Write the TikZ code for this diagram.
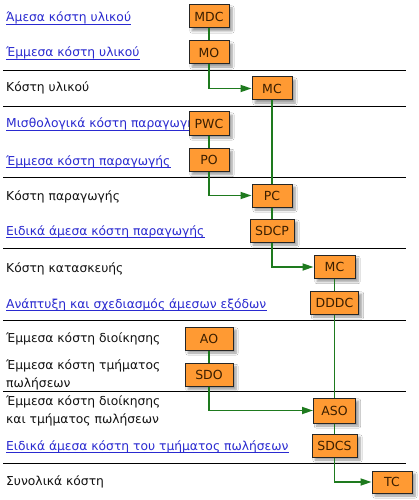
\documentclass[tikz,border=0pt]{standalone}
\usepackage{fontspec}
\setmainfont{DejaVu Sans}
\usetikzlibrary{arrows.meta,shadows.blur}
\definecolor{boxfill}{HTML}{FF9A33}
\definecolor{boxtext}{HTML}{3A1E00}
\definecolor{conn}{HTML}{1E7A1E}
\definecolor{linkblue}{HTML}{2A2AD0}
\definecolor{plain}{HTML}{111111}
\tikzset{
  cbox/.style={draw=black!85, line width=1pt, fill=boxfill, text=boxtext,
    minimum width=40pt, minimum height=23pt, inner sep=0pt, font=\fontsize{12.5}{14}\selectfont,
    blur shadow={shadow xshift=3pt, shadow yshift=-3pt, shadow blur steps=6, shadow opacity=40}},
  lbl/.style={anchor=base west, inner sep=0pt, text=plain, font=\fontsize{12.3}{17.5}\selectfont, align=left},
  lnk/.style={lbl, text=linkblue},
  ul/.style={draw=linkblue, line width=0.8pt},
  sep/.style={draw=black, line width=0.9pt},
  cn/.style={draw=conn, line width=1.7pt},
  ca/.style={cn, -{Triangle[length=11pt,width=7pt]}}
}
\begin{document}
\begin{tikzpicture}[x=1pt,y=-1pt]
\useasboundingbox (0,0) rectangle (418,500);
\fill[white] (0,0) rectangle (418,500);
% separators
\foreach \yy [count=\i] in {70,106,177,248,320,391,463}
  \coordinate (sl\i) at (3,\yy);
\foreach \i in {1,...,7} \draw[sep] (sl\i) -- ++(403,0);
% labels
\node[lnk] (t1) at (6,22) {Άμεσα κόστη υλικού};
\node[lnk] (t2) at (6,57) {Έμμεσα κόστη υλικού};
\node[lbl] (t3) at (6,92) {Κόστη υλικού};
\node[lnk] (t4) at (6,128) {Μισθολογικά κόστη παραγωγής};
\node[lnk] (t5) at (6,165) {Έμμεσα κόστη παραγωγής};
\node[lbl] (t6) at (6,200) {Κόστη παραγωγής};
\node[lnk] (t7) at (6,235) {Ειδικά άμεσα κόστη παραγωγής};
\node[lbl] (t8) at (6,272) {Κόστη κατασκευής};
\node[lnk] (t9) at (6,308) {Ανάπτυξη και σχεδιασμός άμεσων εξόδων};
\node[lbl] (t10) at (6,342) {Έμμεσα κόστη διοίκησης};
\node[lbl] (t11) at (6,387) {Έμμεσα κόστη τμήματος\\πωλήσεων};
\node[lbl] (t12) at (6,423) {Έμμεσα κόστη διοίκησης\\και τμήματος πωλήσεων};
\node[lnk] (t13) at (6,450) {Ειδικά άμεσα κόστη του τμήματος πωλήσεων};
\node[lbl] (t14) at (6,485) {Συνολικά κόστη};
\foreach \n in {t1,t2,t4,t5,t7,t9,t13}
  \draw[ul] ([yshift=-2pt]\n.base west) -- ([yshift=-2pt]\n.base east);
% boxes
\node[cbox] (mdc) at (209,16.5) {MDC};
\node[cbox] (mo) at (209,52.5) {MO};
\node[cbox] (mc) at (272,88.5) {MC};
\node[cbox] (pwc) at (209,123.5) {PWC};
\node[cbox] (po) at (209,160) {PO};
\node[cbox] (pc) at (272,195.5) {PC};
\node[cbox, minimum width=44pt] (sdcp) at (272,230.5) {SDCP};
\node[cbox, minimum width=41pt] (mc2) at (334.5,267) {MC};
\node[cbox, minimum width=48pt] (dddc) at (334.5,302.5) {DDDC};
\node[cbox, minimum width=48pt] (ao) at (209,338.5) {AO};
\node[cbox, minimum width=48pt] (sdo) at (209,375) {SDO};
\node[cbox, minimum width=42pt, minimum height=25pt] (aso) at (334.5,410.5) {ASO};
\node[cbox, minimum width=45pt] (sdcs) at (334.5,445.5) {SDCS};
\node[cbox, minimum height=22pt] (tc) at (392,482) {TC};
% connectors
\draw[cn] (mdc.south) -- (mo.north);
\draw[ca] (mo.south) |- (mc.west);
\draw[cn] (mc.south) -- (pc.north);
\draw[cn] (pwc.south) -- (po.north);
\draw[ca] (po.south) |- (pc.west);
\draw[cn] (pc.south) -- (sdcp.north);
\draw[ca] (sdcp.south) |- (mc2.west);
\draw[cn] (mc2.south) -- (dddc.north);
\draw[cn] (dddc.south) -- (aso.north);
\draw[cn] (ao.south) -- (sdo.north);
\draw[ca] (sdo.south) |- (aso.west);
\draw[cn] (aso.south) -- (sdcs.north);
\draw[ca] (sdcs.south) |- (tc.west);
\end{tikzpicture}
\end{document}
